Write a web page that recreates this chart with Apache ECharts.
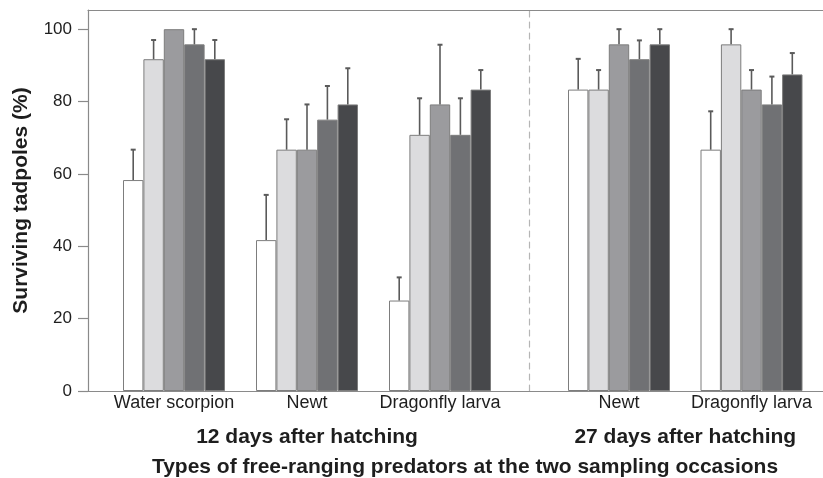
<!DOCTYPE html>
<html>
<head>
<meta charset="utf-8">
<script src="https://cdn.jsdelivr.net/npm/echarts@6/dist/echarts.min.js"></script>
<style>
html,body{margin:0;padding:0;background:#fff;}
#chart{width:823px;height:478px;}
</style>
</head>
<body>
<div id="chart"></div>
<script>
// ---- data ----
const categories12 = ['Water scorpion', 'Newt', 'Dragonfly larva'];
const categories27 = ['Newt', 'Dragonfly larva'];
const occasionLabels = ['12 days after hatching', '27 days after hatching'];
const treatmentNames = ['Treatment 1', 'Treatment 2', 'Treatment 3', 'Treatment 4', 'Treatment 5'];
const yTicks = [0, 20, 40, 60, 80, 100];

// surviving tadpoles (%) 12 days after hatching, per treatment
const t1_12 = [58.3, 41.7, 25.0];
const t2_12 = [91.7, 66.7, 70.8];
const t3_12 = [100, 66.7, 79.2];
const t4_12 = [95.8, 75.0, 70.8];
const t5_12 = [91.7, 79.2, 83.3];
// upper error (%), 12 days
const e1_12 = [8.4, 12.5, 6.4];
const e2_12 = [5.3, 8.4, 10.1];
const e3_12 = [0, 12.5, 16.5];
const e4_12 = [4.2, 9.3, 10.1];
const e5_12 = [5.3, 10.0, 5.4];

// 27 days after hatching
const t1_27 = [83.3, 66.7];
const t2_27 = [83.3, 95.8];
const t3_27 = [95.8, 83.3];
const t4_27 = [91.7, 79.2];
const t5_27 = [95.8, 87.5];
const e1_27 = [8.5, 10.6];
const e2_27 = [5.4, 4.2];
const e3_27 = [4.2, 5.4];
const e4_27 = [5.2, 7.7];
const e5_27 = [4.2, 5.9];

// ---- styling ----
const barColors = ['#ffffff', '#dcdcde', '#9b9b9e', '#707174', '#47484b'];
const BAR_W = 20.4;
const Y_MAX = 105.3;
const AXIS_COLOR = '#8a8a8a';
const TEXT_COLOR = '#1e1e1e';
const FONT = 'Liberation Sans, Arial, sans-serif';
const BOLD_SIZE = 21;

const vals12 = [t1_12, t2_12, t3_12, t4_12, t5_12];
const errs12 = [e1_12, e2_12, e3_12, e4_12, e5_12];
const vals27 = [t1_27, t2_27, t3_27, t4_27, t5_27];
const errs27 = [e1_27, e2_27, e3_27, e4_27, e5_27];

function errData(vals, errs) {
  const out = [];
  vals.forEach((arr, t) => arr.forEach((v, c) => {
    if (errs[t][c] > 0) out.push([c, t, v, errs[t][c]]);
  }));
  return out;
}

function renderErr(params, api) {
  const c = api.value(0), t = api.value(1), v = api.value(2), e = api.value(3);
  const b = api.coord([c, v]);
  const tp = api.coord([c, v + e]);
  const x = b[0] + (t - 2) * BAR_W;
  return {
    type: 'group',
    children: [
      { type: 'line', shape: { x1: x, y1: b[1], x2: x, y2: tp[1] }, style: { stroke: '#5a5a5a', lineWidth: 1.6 } },
      { type: 'line', shape: { x1: x - 2.5, y1: tp[1], x2: x + 2.5, y2: tp[1] }, style: { stroke: '#5a5a5a', lineWidth: 2 } }
    ]
  };
}

const series = [];
vals12.forEach((arr, t) => series.push({
  name: treatmentNames[t], type: 'bar', xAxisIndex: 2, yAxisIndex: 1,
  data: arr, barWidth: BAR_W, barGap: '0%',
  itemStyle: { color: barColors[t], borderColor: '#7d7d7d', borderWidth: 1 },
  silent: true, z: 2
}));
vals27.forEach((arr, t) => series.push({
  name: treatmentNames[t], type: 'bar', xAxisIndex: 3, yAxisIndex: 2,
  data: arr, barWidth: BAR_W, barGap: '0%',
  itemStyle: { color: barColors[t], borderColor: '#7d7d7d', borderWidth: 1 },
  silent: true, z: 2
}));
series.push({
  type: 'custom', xAxisIndex: 2, yAxisIndex: 1, renderItem: renderErr,
  data: errData(vals12, errs12), encode: { x: 0, y: 2 }, z: 3, silent: true
});
series.push({
  type: 'custom', xAxisIndex: 3, yAxisIndex: 2, renderItem: renderErr,
  data: errData(vals27, errs27), encode: { x: 0, y: 2 }, z: 3, silent: true
});

const lineOnly = (gridIndex, position) => ({
  type: 'category', gridIndex: gridIndex, position: position, data: [''],
  axisLine: { show: true, lineStyle: { color: AXIS_COLOR, width: 1.2 } },
  axisTick: { show: false }, axisLabel: { show: false }, splitLine: { show: false }
});

const catAxis = (gridIndex, cats, name) => ({
  type: 'category', gridIndex: gridIndex, data: cats, position: 'bottom',
  axisLine: { show: false }, axisTick: { show: false },
  axisLabel: { color: TEXT_COLOR, fontSize: 18, fontFamily: FONT, margin: 3, interval: 0, hideOverlap: false },
  name: name, nameLocation: 'middle', nameGap: 36,
  nameTextStyle: { color: TEXT_COLOR, fontSize: BOLD_SIZE, fontWeight: 'bold', fontFamily: FONT }
});

const option = {
  animation: false,
  backgroundColor: '#ffffff',
  grid: [
    { left: 88, top: 10, width: 754, bottom: 87, outerBoundsMode: 'none', containLabel: false },
    { left: 107.5, top: 10, width: 399, bottom: 87, outerBoundsMode: 'none', containLabel: false },
    { left: 552.75, top: 10, width: 265, bottom: 87, outerBoundsMode: 'none', containLabel: false }
  ],
  xAxis: [
    Object.assign(lineOnly(0, 'bottom'), {
      name: 'Types of free-ranging predators at the two sampling occasions',
      nameLocation: 'middle', nameGap: 66,
      nameTextStyle: { color: TEXT_COLOR, fontSize: BOLD_SIZE, fontWeight: 'bold', fontFamily: FONT }
    }),
    lineOnly(0, 'top'),
    catAxis(1, categories12, occasionLabels[0]),
    catAxis(2, categories27, occasionLabels[1])
  ],
  yAxis: [
    {
      type: 'value', gridIndex: 0, min: 0, max: Y_MAX, interval: 20,
      axisLine: { show: true, lineStyle: { color: AXIS_COLOR, width: 1.2 } },
      axisTick: { show: true, length: 10, customValues: yTicks, lineStyle: { color: AXIS_COLOR, width: 1.2 } },
      axisLabel: { customValues: yTicks, color: TEXT_COLOR, fontSize: 17, fontFamily: FONT, margin: 16 },
      splitLine: { show: false },
      name: 'Surviving tadpoles (%)', nameLocation: 'middle', nameGap: 56,
      nameTextStyle: { color: TEXT_COLOR, fontSize: BOLD_SIZE, fontWeight: 'bold', fontFamily: FONT }
    },
    { type: 'value', gridIndex: 1, min: 0, max: Y_MAX, show: false },
    {
      type: 'value', gridIndex: 2, min: 0, max: Y_MAX, offset: 23.45,
      axisLine: { show: true, lineStyle: { color: '#b5b5b5', width: 1.2, type: [6, 5] } },
      axisTick: { show: false }, axisLabel: { show: false }, splitLine: { show: false }
    }
  ],
  series: series
};

const chart = echarts.init(document.getElementById('chart'), null, { renderer: 'canvas' });
chart.setOption(option);
</script>
</body>
</html>
